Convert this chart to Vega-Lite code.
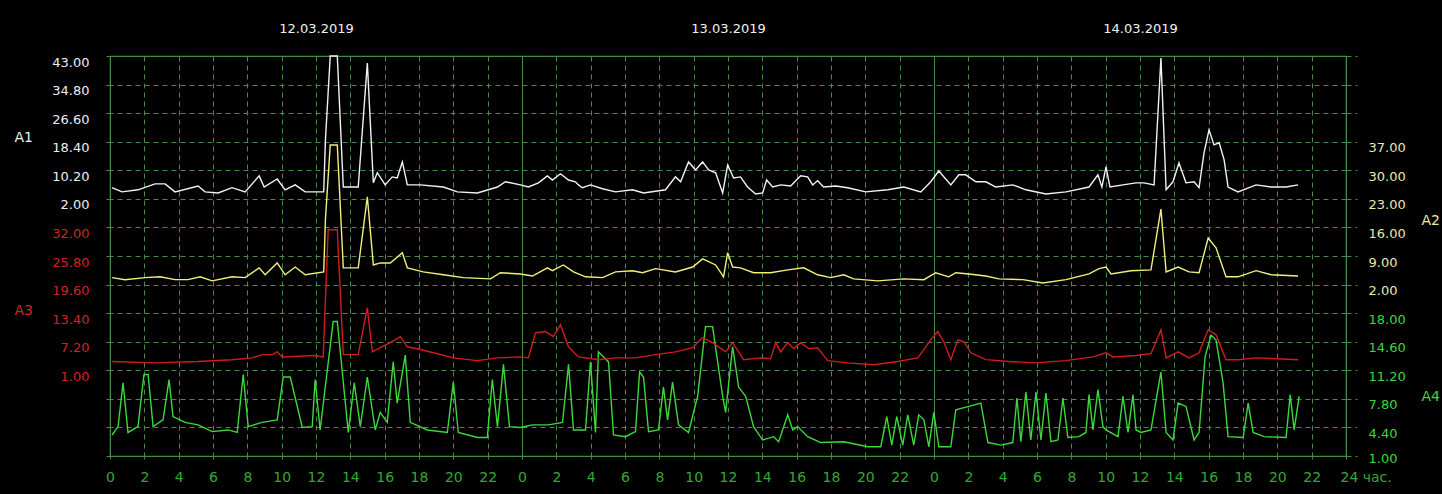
{
  "$schema": "https://vega.github.io/schema/vega-lite/v6.json",
  "width": 1236,
  "height": 400,
  "autosize": {"type": "none"},
  "padding": {"left": 110, "top": 56, "right": 96, "bottom": 38},
  "background": "#000000",
  "config": {
    "view": {"stroke": "#3f8f3f", "strokeWidth": 1.2},
    "axis": {"labelFont": "DejaVu Sans", "titleFont": "DejaVu Sans"}
  },
  "datasets": {
    "a1": [
      {"h":0.12,"v":5.2},{"h":0.70,"v":4.0},{"h":1.63,"v":4.6},{"h":2.62,"v":6.3},{"h":3.21,"v":6.3},{"h":3.79,"v":4.0},{"h":5.13,"v":5.7},{"h":5.54,"v":4.0},{"h":6.30,"v":3.7},{"h":7.11,"v":5.2},{"h":7.87,"v":4.0},{"h":8.69,"v":8.6},{"h":8.98,"v":5.4},{"h":9.74,"v":7.7},{"h":10.20,"v":4.6},{"h":10.79,"v":6.0},{"h":11.37,"v":4.0},{"h":12.45,"v":4.0},{"h":12.55,"v":19.0},{"h":12.83,"v":43},{"h":13.24,"v":43},{"h":13.59,"v":5.4},{"h":14.46,"v":5.4},{"h":14.99,"v":41.0},{"h":15.34,"v":6.6},{"h":15.57,"v":9.5},{"h":16.03,"v":6.0},{"h":16.44,"v":8.3},{"h":16.73,"v":8.0},{"h":17.03,"v":12.6},{"h":17.32,"v":6.0},{"h":18.08,"v":6.0},{"h":19.42,"v":5.4},{"h":20.23,"v":4.0},{"h":21.40,"v":3.7},{"h":22.57,"v":5.4},{"h":23.03,"v":6.9},{"h":23.91,"v":6.0},{"h":24.37,"v":5.4},{"h":24.96,"v":6.6},{"h":25.48,"v":8.6},{"h":25.77,"v":7.4},{"h":26.24,"v":9.2},{"h":26.71,"v":7.4},{"h":27.11,"v":6.9},{"h":27.29,"v":6.0},{"h":27.52,"v":5.2},{"h":27.99,"v":6.0},{"h":28.69,"v":4.9},{"h":29.45,"v":4.0},{"h":30.44,"v":4.6},{"h":31.08,"v":3.7},{"h":32.36,"v":4.6},{"h":32.94,"v":8.3},{"h":33.24,"v":6.9},{"h":33.70,"v":12.6},{"h":34.11,"v":10.3},{"h":34.52,"v":12.6},{"h":34.87,"v":10.3},{"h":35.28,"v":9.5},{"h":35.69,"v":3.7},{"h":35.98,"v":11.7},{"h":36.33,"v":8.0},{"h":36.73,"v":8.3},{"h":37.14,"v":5.4},{"h":37.61,"v":3.4},{"h":38.02,"v":3.7},{"h":38.25,"v":7.4},{"h":38.60,"v":5.4},{"h":39.07,"v":6.0},{"h":39.65,"v":5.7},{"h":40.23,"v":8.6},{"h":40.64,"v":8.3},{"h":40.93,"v":6.0},{"h":41.22,"v":7.2},{"h":41.57,"v":5.4},{"h":42.27,"v":5.7},{"h":42.97,"v":5.2},{"h":44.02,"v":4.0},{"h":45.31,"v":4.6},{"h":46.24,"v":5.4},{"h":47.23,"v":4.0},{"h":47.81,"v":6.9},{"h":48.28,"v":10.0},{"h":48.98,"v":6.0},{"h":49.45,"v":8.9},{"h":49.85,"v":8.9},{"h":50.44,"v":6.9},{"h":51.02,"v":6.9},{"h":51.60,"v":5.4},{"h":52.59,"v":6.0},{"h":53.35,"v":4.6},{"h":54.52,"v":3.4},{"h":55.69,"v":4.0},{"h":57.03,"v":5.4},{"h":57.55,"v":8.9},{"h":57.78,"v":5.4},{"h":58.02,"v":11.2},{"h":58.25,"v":5.4},{"h":59.01,"v":6.0},{"h":59.77,"v":6.6},{"h":60.23,"v":6.6},{"h":60.82,"v":6.0},{"h":61.22,"v":42.4},{"h":61.52,"v":4.6},{"h":61.92,"v":6.9},{"h":62.27,"v":12.3},{"h":62.68,"v":6.6},{"h":63.15,"v":6.9},{"h":63.44,"v":5.2},{"h":63.73,"v":15.2},{"h":64.02,"v":21.8},{"h":64.31,"v":17.5},{"h":64.61,"v":18.1},{"h":64.90,"v":13.2},{"h":65.13,"v":5.4},{"h":65.71,"v":4.0},{"h":66.76,"v":6.0},{"h":67.64,"v":5.4},{"h":68.51,"v":5.4},{"h":69.21,"v":6.0}
    ],
    "a2": [
      {"h":0.12,"v":3.7},{"h":0.87,"v":3.2},{"h":2.04,"v":3.7},{"h":2.92,"v":3.9},{"h":3.79,"v":3.2},{"h":4.55,"v":3.2},{"h":5.25,"v":3.9},{"h":5.95,"v":2.9},{"h":7.11,"v":3.9},{"h":7.87,"v":3.7},{"h":8.69,"v":6.1},{"h":9.04,"v":4.4},{"h":9.74,"v":7.3},{"h":10.20,"v":4.4},{"h":10.79,"v":6.3},{"h":11.37,"v":4.4},{"h":12.45,"v":5.1},{"h":12.55,"v":18.0},{"h":12.83,"v":36.2},{"h":13.24,"v":36.2},{"h":13.59,"v":6.1},{"h":14.46,"v":6.1},{"h":14.99,"v":23.5},{"h":15.34,"v":6.8},{"h":15.74,"v":7.3},{"h":16.33,"v":7.3},{"h":17.03,"v":9.8},{"h":17.32,"v":6.1},{"h":18.25,"v":5.1},{"h":19.42,"v":4.4},{"h":20.58,"v":3.7},{"h":22.16,"v":3.4},{"h":22.74,"v":4.9},{"h":23.91,"v":4.6},{"h":24.61,"v":4.1},{"h":25.48,"v":6.1},{"h":25.77,"v":5.4},{"h":26.41,"v":6.8},{"h":27.00,"v":5.1},{"h":27.70,"v":3.9},{"h":28.69,"v":3.7},{"h":29.45,"v":5.1},{"h":30.44,"v":5.4},{"h":31.02,"v":4.9},{"h":31.78,"v":5.9},{"h":32.94,"v":5.1},{"h":33.94,"v":6.3},{"h":34.52,"v":8.3},{"h":35.28,"v":6.8},{"h":35.74,"v":3.9},{"h":35.98,"v":9.8},{"h":36.27,"v":6.3},{"h":36.73,"v":6.1},{"h":37.49,"v":4.9},{"h":38.48,"v":4.9},{"h":39.48,"v":5.6},{"h":40.41,"v":6.1},{"h":41.22,"v":4.4},{"h":41.98,"v":3.7},{"h":42.74,"v":4.4},{"h":43.32,"v":3.4},{"h":44.72,"v":2.9},{"h":46.24,"v":3.4},{"h":47.41,"v":3.2},{"h":48.10,"v":4.9},{"h":48.86,"v":3.9},{"h":49.27,"v":4.9},{"h":50.03,"v":4.6},{"h":51.02,"v":4.1},{"h":51.78,"v":3.4},{"h":53.18,"v":3.2},{"h":54.34,"v":2.4},{"h":55.69,"v":3.2},{"h":57.03,"v":4.6},{"h":57.61,"v":5.9},{"h":58.02,"v":6.3},{"h":58.31,"v":4.6},{"h":59.48,"v":5.4},{"h":60.64,"v":5.6},{"h":61.22,"v":20.5},{"h":61.52,"v":5.1},{"h":62.22,"v":6.3},{"h":62.86,"v":5.1},{"h":63.44,"v":4.9},{"h":63.97,"v":13.4},{"h":64.43,"v":11.0},{"h":65.01,"v":3.9},{"h":65.71,"v":3.9},{"h":66.76,"v":5.4},{"h":67.64,"v":4.4},{"h":69.21,"v":4.1}
    ],
    "a3": [
      {"h":0.12,"v":2.9},{"h":2.62,"v":2.6},{"h":5.13,"v":2.9},{"h":7.11,"v":3.3},{"h":8.28,"v":3.7},{"h":8.86,"v":4.4},{"h":9.45,"v":4.4},{"h":9.74,"v":5.0},{"h":10.03,"v":3.9},{"h":11.95,"v":4.2},{"h":12.42,"v":3.9},{"h":12.71,"v":31.5},{"h":13.24,"v":31.5},{"h":13.59,"v":4.4},{"h":14.46,"v":4.4},{"h":14.99,"v":14.6},{"h":15.28,"v":5.0},{"h":15.74,"v":5.9},{"h":16.33,"v":7.0},{"h":16.91,"v":8.3},{"h":17.32,"v":6.1},{"h":18.08,"v":5.5},{"h":19.07,"v":4.6},{"h":20.00,"v":3.7},{"h":21.40,"v":3.1},{"h":22.57,"v":3.7},{"h":23.91,"v":3.9},{"h":24.37,"v":3.7},{"h":24.78,"v":9.1},{"h":25.36,"v":9.4},{"h":25.83,"v":8.3},{"h":26.24,"v":10.9},{"h":26.71,"v":6.1},{"h":27.29,"v":3.9},{"h":28.45,"v":3.3},{"h":29.45,"v":3.7},{"h":30.61,"v":3.7},{"h":31.78,"v":4.4},{"h":32.94,"v":5.0},{"h":33.94,"v":5.9},{"h":34.52,"v":8.1},{"h":35.10,"v":7.0},{"h":35.86,"v":5.0},{"h":36.27,"v":7.0},{"h":36.91,"v":3.3},{"h":37.90,"v":3.7},{"h":38.48,"v":3.5},{"h":38.78,"v":7.0},{"h":39.07,"v":5.0},{"h":39.48,"v":7.0},{"h":39.83,"v":5.7},{"h":40.23,"v":7.0},{"h":40.70,"v":5.7},{"h":41.22,"v":5.9},{"h":41.81,"v":3.1},{"h":42.97,"v":2.6},{"h":44.49,"v":2.2},{"h":45.89,"v":2.9},{"h":47.06,"v":3.7},{"h":47.81,"v":7.6},{"h":48.22,"v":9.4},{"h":48.57,"v":7.2},{"h":48.98,"v":3.3},{"h":49.39,"v":7.6},{"h":49.74,"v":7.2},{"h":50.15,"v":4.8},{"h":51.02,"v":3.3},{"h":52.36,"v":2.9},{"h":53.94,"v":2.6},{"h":55.69,"v":3.1},{"h":57.26,"v":3.9},{"h":58.02,"v":4.8},{"h":58.43,"v":3.9},{"h":59.77,"v":4.2},{"h":60.64,"v":4.6},{"h":61.22,"v":9.8},{"h":61.52,"v":3.7},{"h":62.22,"v":5.0},{"h":62.86,"v":3.7},{"h":63.44,"v":4.8},{"h":63.97,"v":9.8},{"h":64.43,"v":8.7},{"h":65.01,"v":3.3},{"h":65.71,"v":3.3},{"h":66.76,"v":3.7},{"h":69.21,"v":3.3}
    ],
    "a4": [
      {"h":0.12,"v":3.5},{"h":0.47,"v":4.5},{"h":0.76,"v":9.7},{"h":1.05,"v":3.8},{"h":1.63,"v":4.5},{"h":1.98,"v":10.7},{"h":2.22,"v":10.7},{"h":2.51,"v":4.5},{"h":3.09,"v":5.3},{"h":3.44,"v":10.1},{"h":3.67,"v":5.7},{"h":4.37,"v":5.0},{"h":5.13,"v":4.7},{"h":5.95,"v":3.9},{"h":6.88,"v":4.1},{"h":7.41,"v":3.8},{"h":7.76,"v":10.7},{"h":8.05,"v":4.5},{"h":8.86,"v":5.0},{"h":9.74,"v":5.3},{"h":10.09,"v":10.4},{"h":10.50,"v":10.4},{"h":11.20,"v":4.4},{"h":11.78,"v":4.5},{"h":11.95,"v":10.1},{"h":12.24,"v":4.1},{"h":13.00,"v":17.0},{"h":13.24,"v":17.0},{"h":13.88,"v":3.8},{"h":14.23,"v":9.7},{"h":14.58,"v":4.5},{"h":14.99,"v":10.4},{"h":15.45,"v":4.1},{"h":15.74,"v":6.2},{"h":16.15,"v":5.0},{"h":16.50,"v":12.2},{"h":16.73,"v":7.3},{"h":17.20,"v":13.0},{"h":17.49,"v":5.0},{"h":18.48,"v":4.1},{"h":19.65,"v":3.8},{"h":20.00,"v":9.8},{"h":20.29,"v":3.8},{"h":21.40,"v":3.2},{"h":21.98,"v":3.2},{"h":22.27,"v":10.1},{"h":22.57,"v":4.5},{"h":22.92,"v":11.9},{"h":23.27,"v":4.5},{"h":23.91,"v":4.4},{"h":24.61,"v":4.7},{"h":25.54,"v":4.7},{"h":26.36,"v":5.0},{"h":26.71,"v":11.9},{"h":27.00,"v":4.1},{"h":27.70,"v":4.1},{"h":27.99,"v":12.2},{"h":28.28,"v":3.8},{"h":28.45,"v":13.4},{"h":29.04,"v":12.2},{"h":29.33,"v":3.5},{"h":30.03,"v":3.3},{"h":30.61,"v":3.9},{"h":30.85,"v":11.0},{"h":31.08,"v":10.4},{"h":31.37,"v":3.9},{"h":31.95,"v":4.1},{"h":32.24,"v":9.2},{"h":32.48,"v":5.3},{"h":32.77,"v":9.8},{"h":33.12,"v":4.7},{"h":33.70,"v":3.8},{"h":34.23,"v":8.1},{"h":34.69,"v":16.4},{"h":35.10,"v":16.4},{"h":35.69,"v":8.1},{"h":35.86,"v":6.2},{"h":36.27,"v":14.0},{"h":36.62,"v":9.2},{"h":37.03,"v":8.1},{"h":37.49,"v":4.5},{"h":38.02,"v":2.9},{"h":38.66,"v":3.3},{"h":38.95,"v":2.7},{"h":39.48,"v":5.9},{"h":39.77,"v":4.1},{"h":40.06,"v":4.5},{"h":40.64,"v":3.3},{"h":41.40,"v":2.6},{"h":42.74,"v":2.7},{"h":44.14,"v":2.1},{"h":44.90,"v":2.1},{"h":45.25,"v":5.7},{"h":45.54,"v":2.3},{"h":45.83,"v":5.7},{"h":46.18,"v":2.3},{"h":46.47,"v":5.9},{"h":46.82,"v":2.3},{"h":47.11,"v":5.9},{"h":47.41,"v":5.3},{"h":47.70,"v":2.1},{"h":47.99,"v":6.2},{"h":48.28,"v":2.1},{"h":48.98,"v":2.1},{"h":49.27,"v":6.5},{"h":50.03,"v":6.9},{"h":50.73,"v":7.3},{"h":51.14,"v":2.6},{"h":51.90,"v":2.3},{"h":52.59,"v":2.6},{"h":52.83,"v":7.9},{"h":53.06,"v":2.7},{"h":53.35,"v":8.6},{"h":53.64,"v":2.9},{"h":53.94,"v":8.6},{"h":54.23,"v":2.9},{"h":54.52,"v":8.5},{"h":54.81,"v":2.7},{"h":55.22,"v":2.9},{"h":55.51,"v":7.9},{"h":55.80,"v":3.2},{"h":56.44,"v":3.3},{"h":56.85,"v":3.8},{"h":57.03,"v":8.3},{"h":57.26,"v":4.1},{"h":57.55,"v":8.9},{"h":57.84,"v":4.5},{"h":58.02,"v":4.1},{"h":58.72,"v":3.3},{"h":59.01,"v":8.1},{"h":59.30,"v":3.8},{"h":59.59,"v":8.3},{"h":59.77,"v":4.1},{"h":60.06,"v":3.8},{"h":60.64,"v":4.1},{"h":61.22,"v":11.0},{"h":61.52,"v":3.8},{"h":61.92,"v":2.9},{"h":62.22,"v":7.3},{"h":62.68,"v":6.9},{"h":63.15,"v":2.9},{"h":63.44,"v":3.8},{"h":63.79,"v":12.8},{"h":64.14,"v":15.4},{"h":64.43,"v":14.8},{"h":64.84,"v":9.7},{"h":65.13,"v":3.3},{"h":66.01,"v":3.2},{"h":66.30,"v":7.3},{"h":66.59,"v":3.8},{"h":67.23,"v":3.3},{"h":68.51,"v":3.2},{"h":68.75,"v":8.3},{"h":68.98,"v":4.1},{"h":69.27,"v":8.1}
    ]
  },
  "layer": [
    {
      "data": {"name": "a4"},
      "mark": {"type": "line", "color": "#3cd83c", "strokeWidth": 1.4},
      "encoding": {
        "x": {
          "field": "h", "type": "quantitative",
          "scale": {"domain": [0, 72], "nice": false, "zero": false},
          "axis": {
            "orient": "bottom",
            "values": [0,2,4,6,8,10,12,14,16,18,20,22,24,26,28,30,32,34,36,38,40,42,44,46,48,50,52,54,56,58,60,62,64,66,68,70,72],
            "labelExpr": "datum.value == 72 ? '24 час.' : '' + (datum.value % 24)",
            "grid": true,
            "gridColor": "#4c874c",
            "gridWidth": 1,
            "gridDash": {"condition": {"test": "datum.value % 24 == 0", "value": []}, "value": [5, 4]},
            "domain": false,
            "ticks": true,
            "tickSize": 6,
            "tickColor": "#4c874c",
            "tickDash": [3, 3],
            "labelColor": "#34a834",
            "labelFontSize": 14,
            "labelPadding": 8,
            "labelAlign": {"condition": {"test": "datum.value == 72", "value": "left"}, "value": "center"},
            "labelOffset": {"condition": {"test": "datum.value == 72", "value": -6}, "value": 0},
            "labelFlush": false,
            "labelOverlap": false,
            "title": null
          }
        },
        "y": {
          "field": "v", "type": "quantitative",
          "scale": {"domain": [1, 48.6], "nice": false, "zero": false},
          "axis": {
            "orient": "right",
            "values": [1,4.4,7.8,11.2,14.6,18,21.4,24.8,28.2,31.6,35,38.4,41.8,45.2,48.6],
            "labelExpr": "datum.value <= 18.01 ? format(datum.value, '.2f') : ''",
            "grid": true,
            "gridColor": "#4c874c",
            "gridDash": [5, 4],
            "domain": false,
            "ticks": true,
            "tickSize": 11,
            "tickColor": "#4c874c",
            "tickDash": [5, 4],
            "labelColor": "#3cd83c",
            "labelFontSize": 13,
            "labelBaseline": "top",
            "labelOffset": {"condition": {"test": "datum.value < 1.5", "value": -4}, "value": 0},
            "labelPadding": 11,
            "labelFlush": false,
            "labelOverlap": false,
            "title": "A4",
            "titleAngle": 0,
            "titleX": 75,
            "titleY": 340,
            "titleAlign": "left",
            "titleBaseline": "middle",
            "titleColor": "#3cd83c",
            "titleFontSize": 14,
            "titleFontWeight": "normal"
          }
        }
      }
    },
    {
      "data": {"name": "a3"},
      "mark": {"type": "line", "color": "#d01c1c", "strokeWidth": 1.4},
      "encoding": {
        "x": {"field": "h", "type": "quantitative", "scale": {"domain": [0, 72], "nice": false, "zero": false}, "axis": null},
        "y": {
          "field": "v", "type": "quantitative",
          "scale": {"domain": [-17.6, 69.2], "nice": false, "zero": false},
          "axis": {
            "orient": "left",
            "values": [1, 7.2, 13.4, 19.6, 25.8, 32],
            "format": ".2f",
            "grid": false,
            "domain": false,
            "ticks": false,
            "labelColor": "#d42222",
            "labelFontSize": 13,
            "labelBaseline": "top",
            "labelPadding": 21,
            "labelFlush": false,
            "labelOverlap": false,
            "title": "A3",
            "titleAngle": 0,
            "titleX": -96,
            "titleY": 254,
            "titleAlign": "left",
            "titleBaseline": "middle",
            "titleColor": "#d42222",
            "titleFontSize": 14,
            "titleFontWeight": "normal"
          }
        }
      }
    },
    {
      "data": {"name": "a2"},
      "mark": {"type": "line", "color": "#f0f07a", "strokeWidth": 1.4},
      "encoding": {
        "x": {"field": "h", "type": "quantitative", "scale": {"domain": [0, 72], "nice": false, "zero": false}, "axis": null},
        "y": {
          "field": "v", "type": "quantitative",
          "scale": {"domain": [-40, 58], "nice": false, "zero": false},
          "axis": {
            "orient": "right",
            "values": [2, 9, 16, 23, 30, 37],
            "format": ".2f",
            "grid": false,
            "domain": false,
            "ticks": false,
            "labelColor": "#e8e8a8",
            "labelFontSize": 13,
            "labelBaseline": "top",
            "labelPadding": 22,
            "labelFlush": false,
            "labelOverlap": false,
            "title": "A2",
            "titleAngle": 0,
            "titleX": 75,
            "titleY": 164,
            "titleAlign": "left",
            "titleBaseline": "middle",
            "titleColor": "#e8e8a8",
            "titleFontSize": 14,
            "titleFontWeight": "normal"
          }
        }
      }
    },
    {
      "data": {"name": "a1"},
      "mark": {"type": "line", "color": "#f2f2f2", "strokeWidth": 1.4},
      "encoding": {
        "x": {
          "field": "h", "type": "quantitative",
          "scale": {"domain": [0, 72], "nice": false, "zero": false},
          "axis": {
            "orient": "top",
            "values": [12, 36, 60],
            "labelExpr": "datum.value == 12 ? '12.03.2019' : datum.value == 36 ? '13.03.2019' : '14.03.2019'",
            "grid": false,
            "domain": false,
            "ticks": false,
            "labelColor": "#f0f0f0",
            "labelFontSize": 13,
            "labelPadding": 21,
            "labelFlush": false,
            "labelOverlap": false,
            "title": null
          }
        },
        "y": {
          "field": "v", "type": "quantitative",
          "scale": {"domain": [-71.8, 43], "nice": false, "zero": false},
          "axis": {
            "orient": "left",
            "values": [43,34.8,26.6,18.4,10.2,2,-6.2,-14.4,-22.6,-30.8,-39,-47.2,-55.4,-63.6,-71.8],
            "labelExpr": "datum.value > 1.99 ? format(datum.value, '.2f') : ''",
            "grid": false,
            "domain": false,
            "ticks": true,
            "tickSize": 4,
            "tickColor": "#4c874c",
            "labelColor": "#eeeeee",
            "labelFontSize": 13,
            "labelBaseline": "top",
            "labelPadding": 17,
            "labelFlush": false,
            "labelOverlap": false,
            "title": "A1",
            "titleAngle": 0,
            "titleX": -96,
            "titleY": 81.5,
            "titleAlign": "left",
            "titleBaseline": "middle",
            "titleColor": "#eeeeee",
            "titleFontSize": 14,
            "titleFontWeight": "normal"
          }
        }
      }
    }
  ],
  "resolve": {
    "scale": {"y": "independent"},
    "axis": {"x": "independent", "y": "independent"}
  }
}
